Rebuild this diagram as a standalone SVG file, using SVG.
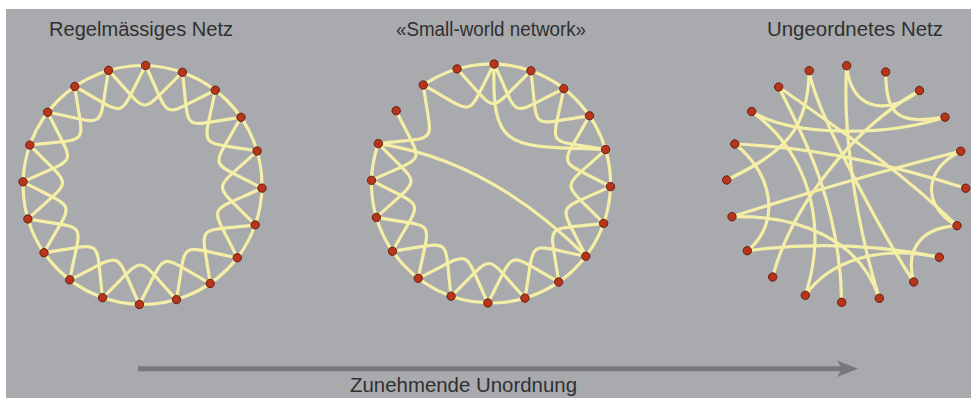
<svg xmlns="http://www.w3.org/2000/svg" width="971" height="398" viewBox="0 0 971 398">
<style>
.title{font-family:"Liberation Sans",Arial,sans-serif;font-size:20px;fill:#303030}
.node{fill:#b8341b;stroke:#5e1a0c;stroke-width:0.9}
.edges{fill:none;stroke:#f4eea6;stroke-width:3.2;stroke-linecap:round;stroke-linejoin:round}
</style>
<defs>
<path id="b0" d="M3.13,-119.46 C29.94,-62.41 16.01,-67.34 72.75,-94.81"/>
<path id="b1" d="M39.89,-112.65 C47.76,-50.11 36.04,-59.1 98.48,-67.69"/>
<path id="b2" d="M72.75,-94.81 C60.91,-32.9 52.54,-45.08 114.58,-33.94"/>
<path id="b3" d="M98.48,-67.69 C68.1,-12.47 63.9,-26.63 119.46,3.13"/>
<path id="b4" d="M114.58,-33.94 C68.61,9.19 68.99,-5.58 112.65,39.89"/>
<g id="quarter"><use href="#b0"/><use href="#b1"/><use href="#b2"/><use href="#b3"/><use href="#b4"/></g>
<circle id="dot" r="4.2"/>
</defs>
<rect x="0" y="0" width="971" height="398" fill="#ffffff"/>
<rect x="6" y="9" width="965" height="389" fill="#a8aaad"/>

<text class="title" x="49" y="36" textLength="184" lengthAdjust="spacingAndGlyphs">Regelmässiges Netz</text>
<text class="title" x="396" y="36" textLength="190" lengthAdjust="spacingAndGlyphs">«Small-world network»</text>
<text class="title" x="767" y="36" textLength="176" lengthAdjust="spacingAndGlyphs">Ungeordnetes Netz</text>

<g id="connectors">
<g id="edges-regular" class="edges" transform="translate(142.5,185)">
<circle r="119.5"/>
<use href="#quarter"/>
<use href="#quarter" transform="rotate(90)"/>
<use href="#quarter" transform="rotate(180)"/>
<use href="#quarter" transform="rotate(270)"/>
</g>
<g id="edges-smallworld" class="edges" transform="translate(491,183.5)">
<path d="M-67.69,-98.48 A119.5,119.5 0 1 1 -112.65,-39.89"/>
<use href="#quarter"/>
<use href="#quarter" transform="rotate(90)"/>
<use href="#quarter" transform="rotate(180)"/>
<use href="#b0" transform="rotate(270)"/>
<use href="#b1" transform="rotate(270)"/>
<use href="#b3" transform="rotate(270)"/>
<use href="#b4" transform="rotate(270)"/>
<path d="M3.13,-119.46 C0,-30 20,-38 114.58,-33.94"/>
<path d="M-112.65,-39.89 Q-1,-23 94.81,72.75"/>
</g>
<g id="edges-random" class="edges">
<path d="M846.7,65.7 C850,108 885,118 919.5,90.5"/>
<path d="M885.7,72 C886,118 900,124 945,117.2"/>
<path d="M751.7,111.5 C790,135 880,138 945,117.2"/>
<path d="M734.8,144 Q840,148 965.7,188.2"/>
<path d="M960.7,151.2 Q860,176 732,216.7"/>
<path d="M960.7,151.2 C925,168 920,205 957,225.7"/>
<path d="M726.7,180 C785,152 808,130 809.2,70.7"/>
<path d="M734.8,144 C775,175 780,225 747.3,250.7"/>
<path d="M846.7,65.7 C843,120 852,210 879.3,298.3"/>
<path d="M809.2,70.7 C815,110 880,230 913.7,282"/>
<path d="M778.7,87 C840,130 900,170 957,225.7"/>
<path d="M778.7,87 C800,130 840,200 841.7,302.3"/>
<path d="M751.7,111.5 C805,150 830,220 805.3,295.3"/>
<path d="M747.3,250.7 Q845,238 939.3,257.3"/>
<path d="M957,225.7 C920,228 905,250 913.7,282"/>
<path d="M732,216.7 C800,215 860,240 879.3,298.3"/>
<path d="M772.7,277 C790,210 850,130 919.5,90.5"/>
<path d="M805.3,295.3 C830,260 880,245 939.3,257.3"/>
</g>
<g id="arrow">
<line x1="138" y1="368.7" x2="845" y2="368.7" stroke="#76787b" stroke-width="5"/>
<polygon points="837,360.5 858,368.7 837,377 842,368.7" fill="#76787b"/>
</g>
</g>

<g id="nodes-regular" class="node" transform="translate(142.5,185)">
<g id="reg-n0"><use href="#dot" x="3.13" y="-119.46"/></g>
<g id="reg-n1"><use href="#dot" x="39.89" y="-112.65"/></g>
<g id="reg-n2"><use href="#dot" x="72.75" y="-94.81"/></g>
<g id="reg-n3"><use href="#dot" x="98.48" y="-67.69"/></g>
<g id="reg-n4"><use href="#dot" x="114.58" y="-33.94"/></g>
<g id="reg-n5"><use href="#dot" x="119.46" y="3.13"/></g>
<g id="reg-n6"><use href="#dot" x="112.65" y="39.89"/></g>
<g id="reg-n7"><use href="#dot" x="94.81" y="72.75"/></g>
<g id="reg-n8"><use href="#dot" x="67.69" y="98.48"/></g>
<g id="reg-n9"><use href="#dot" x="33.94" y="114.58"/></g>
<g id="reg-n10"><use href="#dot" x="-3.13" y="119.46"/></g>
<g id="reg-n11"><use href="#dot" x="-39.89" y="112.65"/></g>
<g id="reg-n12"><use href="#dot" x="-72.75" y="94.81"/></g>
<g id="reg-n13"><use href="#dot" x="-98.48" y="67.69"/></g>
<g id="reg-n14"><use href="#dot" x="-114.58" y="33.94"/></g>
<g id="reg-n15"><use href="#dot" x="-119.46" y="-3.13"/></g>
<g id="reg-n16"><use href="#dot" x="-112.65" y="-39.89"/></g>
<g id="reg-n17"><use href="#dot" x="-94.81" y="-72.75"/></g>
<g id="reg-n18"><use href="#dot" x="-67.69" y="-98.48"/></g>
<g id="reg-n19"><use href="#dot" x="-33.94" y="-114.58"/></g>
</g>

<g id="nodes-smallworld" class="node" transform="translate(491,183.5)">
<g id="sw-n0"><use href="#dot" x="3.13" y="-119.46"/></g>
<g id="sw-n1"><use href="#dot" x="39.89" y="-112.65"/></g>
<g id="sw-n2"><use href="#dot" x="72.75" y="-94.81"/></g>
<g id="sw-n3"><use href="#dot" x="98.48" y="-67.69"/></g>
<g id="sw-n4"><use href="#dot" x="114.58" y="-33.94"/></g>
<g id="sw-n5"><use href="#dot" x="119.46" y="3.13"/></g>
<g id="sw-n6"><use href="#dot" x="112.65" y="39.89"/></g>
<g id="sw-n7"><use href="#dot" x="94.81" y="72.75"/></g>
<g id="sw-n8"><use href="#dot" x="67.69" y="98.48"/></g>
<g id="sw-n9"><use href="#dot" x="33.94" y="114.58"/></g>
<g id="sw-n10"><use href="#dot" x="-3.13" y="119.46"/></g>
<g id="sw-n11"><use href="#dot" x="-39.89" y="112.65"/></g>
<g id="sw-n12"><use href="#dot" x="-72.75" y="94.81"/></g>
<g id="sw-n13"><use href="#dot" x="-98.48" y="67.69"/></g>
<g id="sw-n14"><use href="#dot" x="-114.58" y="33.94"/></g>
<g id="sw-n15"><use href="#dot" x="-119.46" y="-3.13"/></g>
<g id="sw-n16"><use href="#dot" x="-112.65" y="-39.89"/></g>
<g id="sw-n17"><use href="#dot" x="-94.81" y="-72.75"/></g>
<g id="sw-n18"><use href="#dot" x="-67.69" y="-98.48"/></g>
<g id="sw-n19"><use href="#dot" x="-33.94" y="-114.58"/></g>
</g>

<g id="nodes-random" class="node">
<g id="rnd-n0"><use href="#dot" x="846.7" y="65.7"/></g>
<g id="rnd-n1"><use href="#dot" x="885.7" y="72"/></g>
<g id="rnd-n2"><use href="#dot" x="919.5" y="90.5"/></g>
<g id="rnd-n3"><use href="#dot" x="945" y="117.2"/></g>
<g id="rnd-n4"><use href="#dot" x="960.7" y="151.2"/></g>
<g id="rnd-n5"><use href="#dot" x="965.7" y="188.2"/></g>
<g id="rnd-n6"><use href="#dot" x="957" y="225.7"/></g>
<g id="rnd-n7"><use href="#dot" x="939.3" y="257.3"/></g>
<g id="rnd-n8"><use href="#dot" x="913.7" y="282"/></g>
<g id="rnd-n9"><use href="#dot" x="879.3" y="298.3"/></g>
<g id="rnd-n10"><use href="#dot" x="841.7" y="302.3"/></g>
<g id="rnd-n11"><use href="#dot" x="805.3" y="295.3"/></g>
<g id="rnd-n12"><use href="#dot" x="772.7" y="277"/></g>
<g id="rnd-n13"><use href="#dot" x="747.3" y="250.7"/></g>
<g id="rnd-n14"><use href="#dot" x="732" y="216.7"/></g>
<g id="rnd-n15"><use href="#dot" x="726.7" y="180"/></g>
<g id="rnd-n16"><use href="#dot" x="734.8" y="144"/></g>
<g id="rnd-n17"><use href="#dot" x="751.7" y="111.5"/></g>
<g id="rnd-n18"><use href="#dot" x="778.7" y="87"/></g>
<g id="rnd-n19"><use href="#dot" x="809.2" y="70.7"/></g>
</g>

<text class="title" x="350" y="392" textLength="227" lengthAdjust="spacingAndGlyphs">Zunehmende Unordnung</text>
</svg>
